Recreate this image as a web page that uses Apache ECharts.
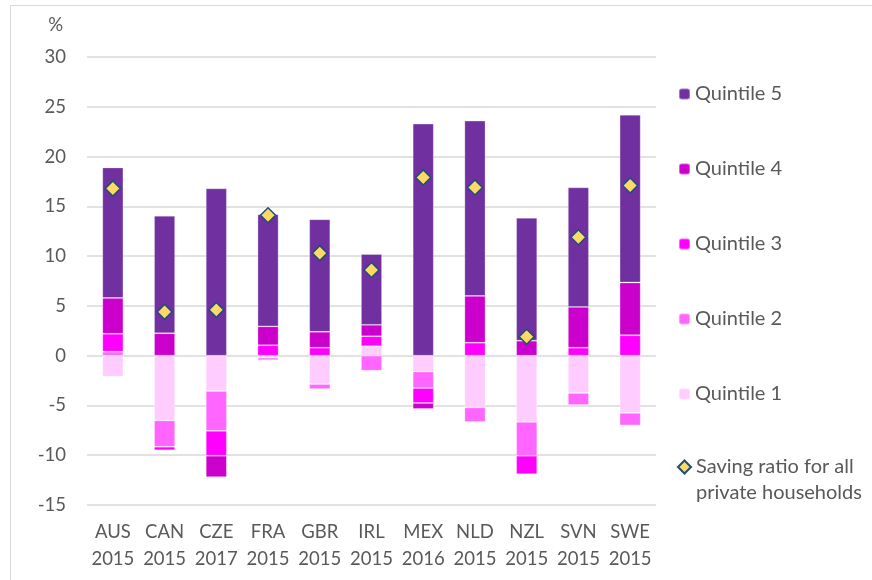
<!DOCTYPE html>
<html>
<head>
<meta charset="utf-8">
<script src="https://cdn.jsdelivr.net/npm/echarts@6/dist/echarts.min.js"></script>
<style>
html, body { margin: 0; padding: 0; background: #fff; }
#chart_saving { width: 872px; height: 580px; }
</style>
</head>
<body>
<div id="chart_saving"></div>
<script>
// 国家 / 年份
var countries = ["AUS\n2015", "CAN\n2015", "CZE\n2017", "FRA\n2015", "GBR\n2015", "IRL\n2015",
	"MEX\n2016", "NLD\n2015", "NZL\n2015", "SVN\n2015", "SWE\n2015"];
// 各五分位贡献 (%)
var quintile1 = [-2.1, -6.5, -3.55, -0.2, -2.85, 0.95, -1.6, -5.2, -6.65, -3.75, -5.75];
var quintile2 = [0.4, -2.65, -4.0, -0.25, -0.5, -1.5, -1.65, -1.45, -3.4, -1.2, -1.25];
var quintile3 = [1.8, -0.35, -2.5, 1.05, 0.8, 1.0, -1.5, 1.3, -1.85, 0.8, 2.05];
var quintile4 = [3.6, 2.25, -2.15, 1.9, 1.6, 1.15, -0.6, 4.7, 1.5, 4.1, 5.3];
var quintile5 = [13.1, 11.8, 16.8, 11.25, 11.3, 7.1, 23.3, 17.6, 12.35, 12.0, 16.85];
// 全部私人家庭储蓄率
var savingRatio = [16.8, 4.4, 4.6, 14.1, 10.3, 8.6, 17.9, 16.9, 1.9, 11.9, 17.1];
var yTicks = [-15, 30, 5];

var textGray = "#595959";
var fontName = "Lato";
var savingName = "Saving ratio for all private households";

function barSeries(name, data, color) {
	return {
		name: name,
		type: "bar",
		stack: "q",
		data: data,
		barWidth: 21,
		itemStyle: {
			color: color,
			borderColor: "rgba(255,255,255,0.35)",
			borderWidth: 0.8
		}
	};
}

var option_saving = {
	animation: false,
	textStyle: { fontFamily: fontName },
	graphic: [{
		type: "rect",
		left: 8,
		top: 3,
		shape: { width: 900, height: 620 },
		style: { fill: "none", stroke: "#D9D9D9", lineWidth: 1 }
	}],
	grid: {
		left: 87,
		right: 216,
		top: 57,
		bottom: 75
	},
	legend: [{
		orient: "vertical",
		left: 673,
		top: 76,
		itemWidth: 11,
		itemHeight: 11,
		itemGap: 49,
		data: ["Quintile 5", "Quintile 4", "Quintile 3", "Quintile 2", "Quintile 1"],
		textStyle: { color: textGray, fontSize: 20, lineHeight: 26, fontFamily: fontName }
	}, {
		orient: "vertical",
		left: 672,
		top: 423,
		itemWidth: 13,
		itemHeight: 13,
		data: [{ name: savingName, icon: "diamond" }],
		formatter: function() {
			//首行留空，让图标对齐第一行文字
			return "\nSaving ratio for all\nprivate households";
		},
		textStyle: { color: textGray, fontSize: 20, lineHeight: 26, fontFamily: fontName }
	}],
	xAxis: {
		type: "category",
		data: countries,
		axisLine: { show: false },
		axisTick: { show: false },
		axisLabel: {
			color: textGray,
			fontSize: 18.5,
			lineHeight: 27,
			margin: 14,
			interval: 0,
			fontFamily: fontName
		}
	},
	yAxis: {
		type: "value",
		min: yTicks[0],
		max: yTicks[1],
		interval: yTicks[2],
		name: "%",
		nameLocation: "end",
		nameGap: 22,
		nameTextStyle: { color: textGray, fontSize: 18.5, align: "right", padding: [0, 24, 0, 0], fontFamily: fontName },
		axisLine: { show: false },
		axisTick: { show: false },
		axisLabel: { color: textGray, fontSize: 18.5, margin: 21, fontFamily: fontName },
		splitLine: { lineStyle: { color: "#D9D9D9", width: 1.5 } }
	},
	series: [
		barSeries("Quintile 1", quintile1, "#FFCCFF"),
		barSeries("Quintile 2", quintile2, "#FF66FF"),
		barSeries("Quintile 3", quintile3, "#FF00FF"),
		barSeries("Quintile 4", quintile4, "#CC00CC"),
		barSeries("Quintile 5", quintile5, "#7030A0"),
		{
			name: savingName,
			type: "scatter",
			data: savingRatio,
			symbol: "diamond",
			symbolSize: 15,
			z: 5,
			itemStyle: {
				color: "#FFD966",
				opacity: 1,
				borderColor: "#1F4E79",
				borderWidth: 1.5
			}
		}
	]
};

var savingChart = echarts.init(document.getElementById("chart_saving"));
savingChart.setOption(option_saving);
</script>
</body>
</html>
